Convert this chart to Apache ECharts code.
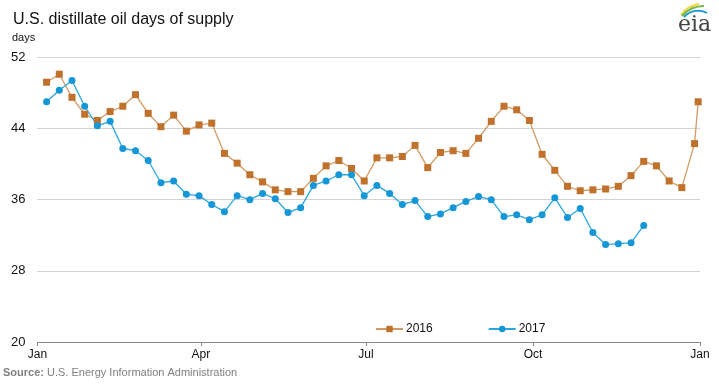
<!DOCTYPE html>
<html>
<head>
<meta charset="utf-8">
<script src="https://cdn.jsdelivr.net/npm/echarts@6/dist/echarts.min.js"></script>
<style>html,body{margin:0;padding:0;background:#fff}#c{width:719px;height:384px}</style>
</head>
<body>
<div id="c"></div>
<script>
// Weekly dates (plotted on a common Jan–Jan year axis)
const weekDates = [
  "01-06","01-13","01-20","01-27","02-03","02-10","02-17","02-24",
  "03-03","03-10","03-17","03-24","03-31","04-07","04-14","04-21","04-28",
  "05-05","05-12","05-19","05-26","06-02","06-09","06-16","06-23","06-30",
  "07-07","07-14","07-21","07-28","08-04","08-11","08-18","08-25",
  "09-01","09-08","09-15","09-22","09-29","10-06","10-13","10-20","10-27",
  "11-03","11-10","11-17","11-24","12-01","12-08","12-15","12-22","12-29","12-31"
];
const values2016 = [
  49.2,50.1,47.5,45.6,44.9,45.9,46.5,47.8,45.7,44.2,45.5,43.7,44.4,44.6,
  41.2,40.1,38.8,38.0,37.1,36.9,36.9,38.4,39.8,40.4,39.5,38.1,
  40.7,40.7,40.85,42.1,39.6,41.3,41.5,41.2,42.9,44.8,46.5,46.1,44.9,
  41.1,39.3,37.5,37.0,37.1,37.2,37.5,38.7,40.3,39.8,38.1,37.35,42.3,47.0
];
const values2017 = [
  47.0,48.3,49.4,46.5,44.3,44.8,41.75,41.5,40.4,37.9,38.1,36.6,36.45,35.45,
  34.65,36.45,36.0,36.7,36.1,34.55,35.1,37.6,38.1,38.8,38.8,36.45,
  37.6,36.7,35.45,35.9,34.1,34.4,35.1,35.8,36.35,36.0,34.1,34.3,33.75,
  34.3,36.2,34.0,35.0,32.3,30.95,31.05,31.15,33.1
];
const yTicks = [20, 28, 36, 44, 52];
const xTickLabels = ["Jan", "Apr", "Jul", "Oct", "Jan"];
const xTickDates = ["01-01", "04-01", "07-01", "10-01", "13-01"];
const seriesNames = ["2016", "2017"];

function dayOf(md) {
  const [m, d] = md.split("-").map(Number);
  return (Date.UTC(2017, m - 1, d) - Date.UTC(2017, 0, 1)) / 86400000;
}
const xTickDays = xTickDates.map(dayOf);
const pairs = vals => vals.map((v, i) => [dayOf(weekDates[i]), v]);

const chart = echarts.init(document.getElementById('c'), null, {renderer: 'canvas'});
const FONT = '"Liberation Sans", Arial, sans-serif';
chart.setOption({
  animation: false,
  backgroundColor: '#fff',
  title: {
    text: 'U.S. distillate oil days of supply',
    left: 8, top: 7,
    textStyle: {fontFamily: FONT, fontSize: 16, fontWeight: 'normal', color: '#111'}
  },
  legend: {
    left: 370, top: 318,
    itemWidth: 27, itemHeight: 8, itemGap: 55,
    data: seriesNames,
    textStyle: {fontFamily: FONT, fontSize: 12, color: '#111', padding: [0, 0, 0, -2]}
  },
  grid: {left: 37.5, right: 19, top: 57.3, bottom: 42},
  xAxis: {
    type: 'value', min: 0, max: 365,
    axisLine: {lineStyle: {color: '#8a8a8a', width: 1}},
    axisTick: {customValues: xTickDays, length: 4, lineStyle: {color: '#8a8a8a'}},
    axisLabel: {
      customValues: xTickDays,
      formatter: v => xTickLabels[xTickDays.indexOf(v)] || '',
      fontFamily: FONT, fontSize: 12, color: '#111', margin: 7
    },
    splitLine: {show: false}
  },
  yAxis: {
    type: 'value', min: yTicks[0], max: yTicks[yTicks.length - 1], interval: 8,
    axisLine: {show: false}, axisTick: {show: false},
    axisLabel: {fontFamily: FONT, fontSize: 13, color: '#111', margin: 12},
    splitLine: {lineStyle: {color: '#a8a8a8', type: 'dotted', width: 1}}
  },
  graphic: [
    {type: 'text', left: 12, top: 32, style: {text: 'days', font: '11px "Liberation Sans", Arial, sans-serif', fill: '#111'}},
    {type: 'text', left: 3, top: 367, style: {
      text: '{b|Source:} U.S. Energy Information Administration',
      rich: {b: {fontWeight: 'bold', fill: '#7f7f7f', fontSize: 11, fontFamily: FONT}},
      font: '11px "Liberation Sans", Arial, sans-serif', fill: '#7f7f7f'}},
    {type: 'bezierCurve', shape: {x1: 681, y1: 15, x2: 699, y2: 4, cpx1: 686, cpy1: 8, cpx2: 693, cpy2: 5},
      style: {stroke: '#f2d33a', lineWidth: 2, fill: null}},
    {type: 'bezierCurve', shape: {x1: 682, y1: 16, x2: 704, y2: 6, cpx1: 688, cpy1: 9, cpx2: 697, cpy2: 6},
      style: {stroke: '#7ab648', lineWidth: 2, fill: null}},
    {type: 'bezierCurve', shape: {x1: 684, y1: 17, x2: 707, y2: 13, cpx1: 690, cpy1: 10, cpx2: 701, cpy2: 9},
      style: {stroke: '#1a9ad6', lineWidth: 2, fill: null}},
    {type: 'text', left: 678, top: 14, style: {text: 'eia', font: '22px "DejaVu Serif", serif', fill: '#444'}}
  ],
  series: [
    {
      name: seriesNames[0], type: 'line', data: pairs(values2016),
      symbol: 'rect', symbolSize: 7,
      lineStyle: {color: '#d39a63', width: 1.3},
      itemStyle: {color: '#c0712b'},
      color: '#c0712b'
    },
    {
      name: seriesNames[1], type: 'line', data: pairs(values2017),
      symbol: 'circle', symbolSize: 7,
      lineStyle: {color: '#2aa6e0', width: 1.3},
      itemStyle: {color: '#1596d6'},
      color: '#1596d6'
    }
  ]
});
</script>
</body>
</html>
